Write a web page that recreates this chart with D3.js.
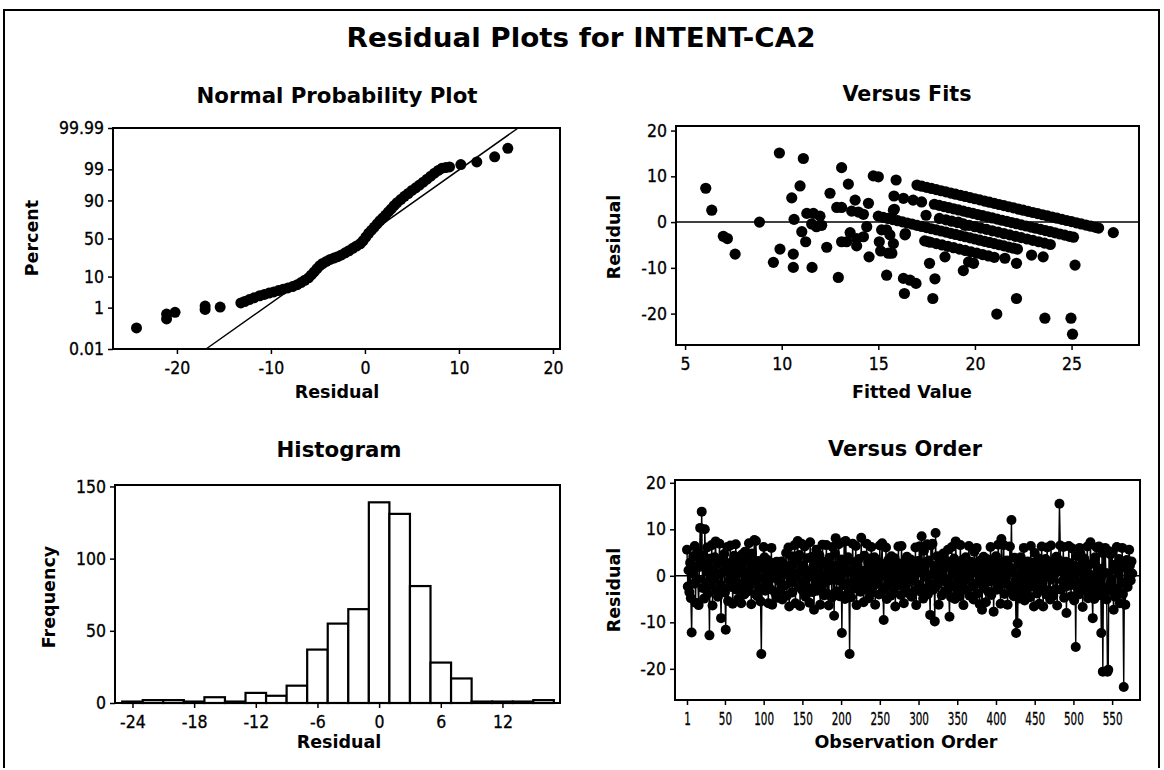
<!DOCTYPE html>
<html>
<head>
<meta charset="utf-8">
<script src="https://cdn.jsdelivr.net/npm/d3@7"></script>
<style>
  body { margin: 0; background: #fff; }
  svg { display: block; }
  text { font-family: "DejaVu Sans Condensed", "DejaVu Sans", sans-serif; fill: #000; }
  .bold { font-family: "DejaVu Sans", sans-serif; font-weight: bold; }
</style>
</head>
<body>
<svg id="chart" width="1164" height="770"></svg>
<script>
// ---- data ----

// normal probability plot: [residual, percent]
const nppPoints = [
  [-24.3, 0.13], [-21.1, 0.34], [-21.1, 0.55], [-20.2, 0.65], [-17.0, 0.85], [-17.0, 1.15], [-15.4, 1.05],
  [-13.2, 1.5], [-12.8, 1.7], [-12.3, 2.0], [-11.8, 2.3], [-11.2, 2.7], [-10.7, 3.0], [-10.2, 3.3],
  [-9.7, 3.6], [-9.2, 4.0], [-8.7, 4.4], [-8.2, 4.8], [-7.7, 5.3], [-7.2, 6.0], [-6.8, 6.9], [-6.4, 8.0],
  [-6.0, 9.3], [-5.7, 11], [-5.4, 13], [-5.1, 15.5], [-4.8, 18], [-4.5, 20], [-4.1, 22], [-3.7, 24],
  [-3.3, 25.5], [-2.9, 27], [-2.5, 29], [-2.1, 31.5], [-1.7, 34], [-1.3, 37], [-0.9, 40], [-0.5, 43],
  [-0.2, 47], [0.1, 52], [0.4, 57], [0.7, 61], [1.0, 65], [1.3, 69], [1.6, 72.5], [1.9, 75.5],
  [2.2, 78.5], [2.5, 81.5], [2.8, 84], [3.1, 86.5], [3.4, 88.5], [3.8, 90.5], [4.2, 92.2], [4.6, 93.5],
  [5.0, 94.7], [5.4, 95.6], [5.8, 96.4], [6.2, 97.1], [6.6, 97.7], [7.0, 98.2], [7.4, 98.6], [7.8, 98.9],
  [8.2, 99.1], [8.6, 99.15], [9.0, 99.2], [10.2, 99.36], [11.9, 99.5], [13.8, 99.7], [15.2, 99.88]
];
const nppFitLine = [[-16.9, 0.01], [16.3, 99.99]];
const percentTicks = [0.01, 1, 10, 50, 90, 99, 99.99];
const percentLabels = ['0.01', '1', '10', '50', '90', '99', '99.99'];
const nppResidualTicks = [-20, -10, 0, 10, 20];

// versus fits: [fitted value, residual]
const fitsPoints = [
  [6.07, 7.4], [6.38, 2.6], [6.98, -3.1], [7.19, -3.6], [7.59, -7.0], [8.85, 0], [9.88, 15.1], [11.12, 13.9],
  [9.57, -8.8], [9.91, -5.9], [10.52, 5.3], [10.95, 7.9], [10.64, 0.6], [10.6, -7.0], [10.6, -9.9],
  [11.04, -2.1], [11.24, -4.3], [11.3, 1.9], [11.64, 1.9], [11.98, 1.3], [11.55, -0.4], [11.8, -1.0],
  [12.07, -0.7], [11.57, -9.9], [12.33, -5.5], [12.5, 6.3], [12.85, 3.2], [13.1, 3.2], [13.1, 11.9],
  [13.45, 8.3], [12.93, -12.1], [13.1, -4.3], [13.36, -4.3], [13.8, 4.8], [13.62, 2.4], [13.97, 2.2],
  [14.23, 1.7], [13.54, -2.3], [13.88, -3.6], [13.88, -5.2], [14.23, -3.2], [14.49, 4.1], [14.4, -1.0],
  [14.52, -7.6], [14.74, 10.1], [15.0, 9.9], [15.05, -4.3], [15.12, -6.3], [15.52, -6.8], [15.17, -1.7],
  [15.43, -1.7], [15.43, -11.6], [15.78, -4.7], [15.83, 2.8], [15.81, 5.7], [16.3, 5.2], [15.92, 9.2],
  [16.38, -2.8], [16.35, -15.6], [16.3, -12.3], [16.64, -12.7], [16.95, -13.4], [16.8, 4.8], [17.24, 4.4],
  [17.47, 1.5], [17.59, -4.3], [17.65, -9.0], [17.82, -16.7], [17.93, -12.4], [18.16, 0.8], [19.14, 0],
  [19.49, -0.7], [18.45, -7.6], [19.4, -10.6], [19.67, -8.7], [19.93, -9.0], [21.55, -7.9], [22.15, -9.0],
  [22.93, -7.2], [23.53, -7.6], [25.18, -9.4], [21.13, -20.1], [22.15, -16.7], [23.62, -21], [24.97, -21],
  [25.05, -24.5], [27.16, -2.3], [15.78, 2.6], [15.6, -2.8], [16.4, -2.5], [15.7, -6.8],
  // band near residual = 25 - fit
  [17.0, 8.1], [17.25, 7.85], [17.5, 7.6], [17.75, 7.35], [18.0, 7.1], [18.25, 6.85], [18.5, 6.6],
  [18.75, 6.35], [19.0, 6.1], [19.25, 5.85], [19.5, 5.6], [19.75, 5.35], [20.0, 5.1], [20.25, 4.85],
  [20.5, 4.6], [20.75, 4.35], [21.0, 4.1], [21.25, 3.85], [21.5, 3.6], [21.75, 3.35], [22.0, 3.1],
  [22.25, 2.85], [22.5, 2.6], [22.75, 2.35], [23.0, 2.1], [23.25, 1.85], [23.5, 1.6], [23.75, 1.35],
  [24.0, 1.1], [24.25, 0.85], [24.5, 0.6], [24.75, 0.35], [25.0, 0.1], [25.25, -0.15], [25.5, -0.4],
  [25.75, -0.65], [26.0, -0.9], [26.25, -1.15], [26.4, -1.3],
  // band near residual = 22 - fit
  [17.9, 3.9], [18.15, 3.65], [18.4, 3.4], [18.65, 3.15], [18.9, 2.9], [19.15, 2.65], [19.4, 2.4],
  [19.65, 2.15], [19.9, 1.9], [20.15, 1.65], [20.4, 1.4], [20.65, 1.15], [20.9, 0.9], [21.15, 0.65],
  [21.4, 0.4], [21.65, 0.15], [21.9, -0.1], [22.15, -0.35], [22.4, -0.6], [22.65, -0.85], [22.9, -1.1],
  [23.15, -1.35], [23.4, -1.6], [23.65, -1.85], [23.9, -2.1], [24.15, -2.35], [24.4, -2.6], [24.65, -2.85],
  [24.9, -3.1], [25.1, -3.3],
  // band near residual = 16 - fit
  [15.0, 1.3], [15.25, 1.05], [15.5, 0.8], [15.75, 0.55], [16.0, 0.3], [16.25, 0.05], [16.5, -0.2],
  [16.75, -0.45], [17.0, -0.7], [17.25, -0.95], [17.5, -1.2], [17.75, -1.45], [18.0, -1.7], [18.25, -1.95],
  [18.5, -2.2], [18.75, -2.45], [19.0, -2.7], [19.25, -2.95], [19.5, -3.2], [19.75, -3.45], [20.0, -3.7],
  [20.25, -3.95], [20.5, -4.2], [20.75, -4.45], [21.0, -4.7], [21.25, -4.95], [21.5, -5.2], [21.75, -5.45],
  [22.0, -5.7], [22.2, -5.9],
  // band near residual = 13 - fit
  [17.4, -4.1], [17.7, -4.4], [18.0, -4.7], [18.3, -5.0], [18.6, -5.3], [18.9, -5.6], [19.2, -5.9],
  [19.5, -6.2], [19.8, -6.5], [20.1, -6.8], [20.4, -7.1], [20.7, -7.4], [21.0, -7.7],
  // band near residual = 19 - fit
  [18.5, 0.5], [18.8, 0.2], [19.1, -0.1], [19.4, -0.4], [19.7, -0.7], [20.0, -1.0], [20.3, -1.3],
  [20.6, -1.6], [20.9, -1.9], [21.2, -2.2], [21.5, -2.5], [21.8, -2.8], [22.1, -3.1], [22.4, -3.4],
  [22.7, -3.7], [23.0, -4.0], [23.3, -4.3], [23.6, -4.6], [23.9, -4.9]
];
const fitsXTicks = [5, 10, 15, 20, 25];
const residualTicks = [-20, -10, 0, 10, 20];

// histogram: bin midpoints (width 2) and frequencies
const histBins = [-24, -22, -20, -18, -16, -14, -12, -10, -8, -6, -4, -2, 0, 2, 4, 6, 8, 10, 12, 14, 16];
const histCounts = [1, 2, 2, 1, 4, 1, 7, 5, 12, 37, 55, 65, 139, 131, 81, 28, 17, 1, 1, 1, 2];
const histXTicks = [-24, -18, -12, -6, 0, 6, 12];
const histYTicks = [0, 50, 100, 150];

// versus order: residual for observations 1..576
const orderResiduals = [
  5.6, -2.3, 1.2, -3.5, 2.8, -4.8, -12.2, 0.5, 4.1, -1.7, 6.4, -5.8, 2.0, 5.1, -0.8, -6.3, 1.9, 10.3, 3.6, 13.8, -2.6, 4.4, -4.9, 10.0,
  2.2, -1.4, 6.1, -3.8, 0.9, -12.8, 3.7, -2.0, 6.6, -6.4, 1.5, -0.6, 4.0, 7.4, -3.3, 2.6, -4.5, 0.3, 6.9, -1.9, -9.1, 3.1, -2.7, 1.0,
  4.7, -3.6, -11.6, 2.4, 6.2, -5.4, 1.7, -0.9, 6.5, -2.4, 3.0, -6.0, 0.2, 4.3, -1.2, 6.8, -3.0, 2.1, -5.0, 3.8, 0.6, -2.8, -5.9, 4.6,
  -1.6, 2.9, -4.0, 5.2, 0.4, -3.4, 3.5, -0.3, 7.0, -2.2, 1.4, -6.1, 4.8, -1.0, 2.7, 7.7, -3.9, 7.5, 0.8, -4.4, 3.2, -2.5, 1.8, -5.5,
  -16.8, 2.3, -0.5, 6.2, 4.0, -3.2, 1.1, -1.8, 3.4, -5.9, 2.5, 0.1, -2.9, 6.0, -6.2, 1.6, -0.4, 2.8, -3.7, 0.7, 3.0, -4.7, 1.3, -1.1,
  2.0, -3.0, 3.1, -5.1, 0.9, 2.4, -2.1, 1.5, 4.9, -4.3, 0.3, 6.1, -6.6, 1.9, -1.5, 4.2, -3.6, 2.6, -0.7, 6.6, -5.9, 0.5, 3.3, 7.5,
  -2.4, 4.5, -6.5, 1.2, 6.9, -3.1, 2.2, -1.3, 6.3, -4.5, 0.6, 3.8, -2.6, 1.0, -5.8, 7.2, -0.2, 4.1, -3.5, 2.0, -7.3, 3.3, -1.7, 5.6,
  -3.2, 1.4, -0.6, 4.4, -6.2, 2.5, -2.3, 6.7, 0.0, -4.2, 3.0, -1.4, 6.6, -3.8, 1.7, -6.4, 3.9, -0.9, 2.3, -4.7, 6.2, 0.4, -8.6, 4.8,
  8.1, -3.3, 2.1, -1.0, 6.8, -4.4, 0.8, 3.5, -12.3, 2.7, -2.0, 7.3, -5.0, 7.5, 1.3, -3.9, 4.0, -1.6, -16.8, 3.2, -4.6, 0.7, 6.9, -2.8,
  1.8, -0.3, 6.4, -6.3, 2.4, -1.9, 3.6, 0.2, -3.4, 8.2, -2.5, 1.1, -5.7, 4.3, 0.6, -3.0, 6.9, -1.2, 2.9, -4.8, 3.7, -0.8, 6.2, -3.6,
  1.5, -2.2, 4.0, -6.2, 0.9, 3.1, -1.5, 2.2, -4.0, 6.5, -0.1, 2.6, 7.0, -3.1, -9.5, 1.6, -2.6, 6.1, -5.0, 0.3, 3.4, -1.8, 2.0, -4.3,
  4.2, -0.4, 1.9, -3.5, 3.8, -6.6, 0.5, 2.8, -2.1, 6.3, -1.1, 0.9, -4.1, 6.4, -0.9, 2.3, -5.9, 3.0, -2.4, 1.2, 4.1, -3.7, 0.1, 2.7,
  -1.3, 3.5, -4.5, 1.0, -0.6, 2.4, -3.2, 6.1, -6.3, 0.6, 3.2, -1.9, 6.3, 6.3, -3.4, 8.5, 1.5, -4.9, 5.4, -0.2, 2.9, -2.8, 6.8, -4.0,
  3.3, -1.6, -8.4, 6.5, 0.3, 6.9, -3.0, 2.1, -9.8, 9.2, -2.2, 4.2, 0.7, -6.2, 3.6, -1.1, 2.5, -4.2, 1.3, 4.8, -0.5, -3.3, 2.0, -1.4,
  3.1, 5.6, -2.7, -8.8, 1.8, -4.6, 6.2, 0.2, -2.0, 3.7, -5.0, 7.4, 1.0, -3.6, 2.6, -0.8, -4.4, 6.6, 0.4, -2.5, 3.4, -6.3, 1.6, -1.0,
  4.0, -3.1, 2.2, -0.3, 6.4, -4.3, 1.1, 3.0, -2.3, 0.6, -5.1, 5.2, 2.7, -1.7, 6.0, -3.8, 0.8, 2.4, -6.1, 3.3, -0.7, -7.3, 1.9, 4.1,
  -2.6, 1.3, -5.7, 3.6, 0.0, -3.4, 2.8, -1.2, 6.2, -4.1, 0.9, 3.0, -7.7, 2.0, -0.9, 4.2, -3.0, 1.4, 6.7, -2.4, 0.5, -6.0, 7.9, 2.9,
  -1.5, 6.6, -3.9, 1.7, -0.4, 3.3, -6.2, 2.2, -2.1, 6.3, 0.8, 12.0, -3.5, 1.5, -4.4, 3.9, -1.0, -12.3, -2.0, -10.2, 2.6, -4.9, 0.2, 4.0,
  -3.2, 1.2, -1.8, 6.0, -5.3, 2.4, 0.4, -3.7, 3.1, -0.6, 1.9, -4.6, 6.4, -2.3, 0.7, 2.8, -6.6, 4.9, -1.3, 2.1, -3.8, 1.0, 3.7, -6.0,
  0.3, -2.7, 6.3, -1.6, -6.6, 2.3, -0.2, 3.6, -4.0, 6.1, 1.4, -3.1, 2.5, -5.1, 6.5, -0.8, 1.8, -4.3, 3.2, 0.5, -2.9, 4.1, -6.4, 1.1,
  3.4, 15.5, 6.5, -3.0, 2.0, -1.1, 6.2, -4.7, 0.9, 3.0, -8.0, 1.6, -2.2, 6.4, -0.5, 2.7, -4.4, 5.9, -1.9, 0.6, -5.3, 2.1, -15.3, 4.2,
  -2.5, 1.0, -4.0, 6.0, 4.9, -1.4, 2.6, -6.7, 0.4, 3.7, -3.1, 1.9, -0.7, 6.3, -4.8, 2.3, -1.8, 7.2, 0.1, -3.6, -9.1, 2.9, -5.0, 4.0,
  -1.2, 6.1, 0.8, -4.2, 6.3, -2.6, 1.5, -12.3, 5.5, -20.6, 4.8, -3.3, 6.0, 0.6, -5.1, -20.6, -20.2, 5.3, -2.0, 4.6, -0.9, 5.0, -3.4, -7.3,
  2.4, -4.5, 1.3, 6.2, -2.8, 0.5, 3.6, -5.9, 2.0, -1.5, 6.0, -3.9, -23.9, 3.0, -6.2, 1.7, 3.4, -2.4, -0.7, 5.6, 2.2, -1.0, 3.1, 0.5
];
const orderXTicks = [1, 50, 100, 150, 200, 250, 300, 350, 400, 450, 500, 550];

// inverse normal cdf (Acklam) for the probability axis
function probit(p) {
  const a = [-3.969683028665376e+01, 2.209460984245205e+02, -2.759285104469687e+02, 1.383577518672690e+02, -3.066479806614716e+01, 2.506628277459239e+00];
  const b = [-5.447609879822406e+01, 1.615858368580409e+02, -1.556989798598866e+02, 6.680131188771972e+01, -1.328068155288572e+01];
  const c = [-7.784894002430293e-03, -3.223964580411365e-01, -2.400758277161838e+00, -2.549671010352155e+00, 4.374664141464968e+00, 2.938163982698783e+00];
  const d = [7.784695709041462e-03, 3.224671290700398e-01, 2.445134137142996e+00, 3.754408661907416e+00];
  const pl = 0.02425;
  let q, r;
  if (p < pl) {
    q = Math.sqrt(-2 * Math.log(p));
    return (((((c[0]*q+c[1])*q+c[2])*q+c[3])*q+c[4])*q+c[5]) / ((((d[0]*q+d[1])*q+d[2])*q+d[3])*q+1);
  }
  if (p <= 1 - pl) {
    q = p - 0.5; r = q * q;
    return (((((a[0]*r+a[1])*r+a[2])*r+a[3])*r+a[4])*r+a[5])*q / (((((b[0]*r+b[1])*r+b[2])*r+b[3])*r+b[4])*r+1);
  }
  q = Math.sqrt(-2 * Math.log(1 - p));
  return -(((((c[0]*q+c[1])*q+c[2])*q+c[3])*q+c[4])*q+c[5]) / ((((d[0]*q+d[1])*q+d[2])*q+d[3])*q+1);
}
const pz = p => probit(p / 100);
const plain = d => String(d);

const svg = d3.select('#chart');
svg.append('rect').attr('width', 1164).attr('height', 770).attr('fill', '#fff');

// outer frame
svg.append('path')
  .attr('d', 'M4,768 L4,10 L1159,10 L1159,768')
  .attr('fill', 'none').attr('stroke', '#000').attr('stroke-width', 2);

// bold title, squeezed/stretched to the width measured on the reference
const title = (txt, x, y, size, width) => {
  const t = svg.append('text').attr('class', 'bold')
    .attr('x', x).attr('y', y).attr('text-anchor', 'middle')
    .style('font-size', size + 'px').text(txt);
  if (width) t.attr('textLength', width).attr('lengthAdjust', 'spacingAndGlyphs');
  return t;
};
const xLabel = (txt, x, y) => svg.append('text').attr('class', 'bold')
  .attr('x', x).attr('y', y).attr('text-anchor', 'middle')
  .style('font-size', '17.5px').text(txt);
const yLabel = (txt, x, y) => svg.append('text').attr('class', 'bold')
  .attr('transform', `translate(${x},${y}) rotate(-90)`).attr('text-anchor', 'middle')
  .style('font-size', '17.5px').text(txt);

title('Residual Plots for INTENT-CA2', 581, 47, 26, 469);

// draws box + axes for one panel
function frame(box, x, y, xTicks, xFmt, yTicks, yFmt, xSquash) {
  const g = svg.append('g');
  const xa = g.append('g').attr('transform', `translate(0,${box.b})`)
    .call(d3.axisBottom(x).tickValues(xTicks).tickFormat(xFmt).tickSize(5).tickPadding(8).tickSizeOuter(0));
  const ya = g.append('g').attr('transform', `translate(${box.l},0)`)
    .call(d3.axisLeft(y).tickValues(yTicks).tickFormat(yFmt).tickSize(5).tickPadding(4).tickSizeOuter(0));
  [xa, ya].forEach(a => {
    a.select('.domain').remove();
    a.selectAll('line').attr('stroke', '#000').attr('stroke-width', 1.5);
    a.selectAll('text').style('font-size', '17.5px').attr('fill', '#000')
      .attr('stroke', '#000').attr('stroke-width', 0.3);
  });
  if (xSquash) xa.selectAll('text').attr('transform', `scale(${xSquash},1)`);
  g.append('rect')
    .attr('x', box.l).attr('y', box.t).attr('width', box.r - box.l).attr('height', box.b - box.t)
    .attr('fill', 'none').attr('stroke', '#000').attr('stroke-width', 2);
  return g;
}

// ---------- Normal probability plot ----------
{
  const box = { l: 113, r: 560, t: 128, b: 349 };
  const x = d3.scaleLinear().domain([-26.8, 20.75]).range([box.l, box.r]);
  const y = d3.scaleLinear().domain([pz(0.01), pz(99.99)]).range([box.b, box.t]);
  title('Normal Probability Plot', 337, 103, 21, 281);
  yLabel('Percent', 38, 238);
  xLabel('Residual', 337, 398);

  svg.append('g').selectAll('circle').data(nppPoints).join('circle')
    .attr('cx', d => x(d[0])).attr('cy', d => y(pz(d[1]))).attr('r', 5.5).attr('fill', '#000');
  svg.append('path')
    .attr('d', d3.line().x(d => x(d[0])).y(d => y(pz(d[1])))(nppFitLine))
    .attr('stroke', '#000').attr('stroke-width', 1.5).attr('fill', 'none');

  frame(box, x, y, nppResidualTicks, plain, percentTicks.map(pz), (d, i) => percentLabels[i]);
}

// ---------- Versus fits ----------
{
  const box = { l: 676, r: 1139, t: 126, b: 345 };
  const x = d3.scaleLinear().domain([4.53, 28.49]).range([box.l, box.r]);
  const y = d3.scaleLinear().domain([-26.86, 21.0]).range([box.b, box.t]);
  title('Versus Fits', 907, 101, 21, 129);
  yLabel('Residual', 620, 237);
  xLabel('Fitted Value', 912, 398);

  svg.append('line').attr('x1', box.l).attr('x2', box.r).attr('y1', y(0)).attr('y2', y(0))
    .attr('stroke', '#000').attr('stroke-width', 1.5);
  svg.append('g').selectAll('circle').data(fitsPoints).join('circle')
    .attr('cx', d => x(d[0])).attr('cy', d => y(d[1])).attr('r', 5.6).attr('fill', '#000');

  frame(box, x, y, fitsXTicks, plain, residualTicks, plain);
}

// ---------- Histogram ----------
{
  const box = { l: 115, r: 560, t: 485, b: 703 };
  const x = d3.scaleLinear().domain([-25.7, 17.6]).range([box.l, box.r]);
  const y = d3.scaleLinear().domain([0, 151]).range([box.b, box.t]);
  title('Histogram', 339, 457, 21, 125);
  yLabel('Frequency', 55, 597);
  xLabel('Residual', 339, 748);

  svg.append('g').selectAll('rect').data(histBins).join('rect')
    .attr('x', d => x(d - 1)).attr('width', d => x(d + 1) - x(d - 1))
    .attr('y', (d, i) => y(histCounts[i])).attr('height', (d, i) => y(0) - y(histCounts[i]))
    .attr('fill', '#fff').attr('stroke', '#000').attr('stroke-width', 2.2);

  frame(box, x, y, histXTicks, plain, histYTicks, plain);
}

// ---------- Versus order ----------
{
  const box = { l: 675, r: 1140, t: 480, b: 700 };
  const x = d3.scaleLinear().domain([-14.5, 586]).range([box.l, box.r]);
  const y = d3.scaleLinear().domain([-26.7, 20.6]).range([box.b, box.t]);
  title('Versus Order', 905, 456, 21, 154);
  yLabel('Residual', 620, 590);
  xLabel('Observation Order', 906, 748);

  svg.append('line').attr('x1', box.l).attr('x2', box.r).attr('y1', y(0)).attr('y2', y(0))
    .attr('stroke', '#000').attr('stroke-width', 1.5);
  svg.append('path')
    .attr('d', d3.line().x((d, i) => x(i + 1)).y(d => y(d))(orderResiduals))
    .attr('stroke', '#000').attr('stroke-width', 1.4).attr('fill', 'none');
  svg.append('g').selectAll('circle').data(orderResiduals).join('circle')
    .attr('cx', (d, i) => x(i + 1)).attr('cy', d => y(d)).attr('r', 5).attr('fill', '#000');

  frame(box, x, y, orderXTicks, plain, residualTicks, plain, 0.66);
}
</script>
</body>
</html>
